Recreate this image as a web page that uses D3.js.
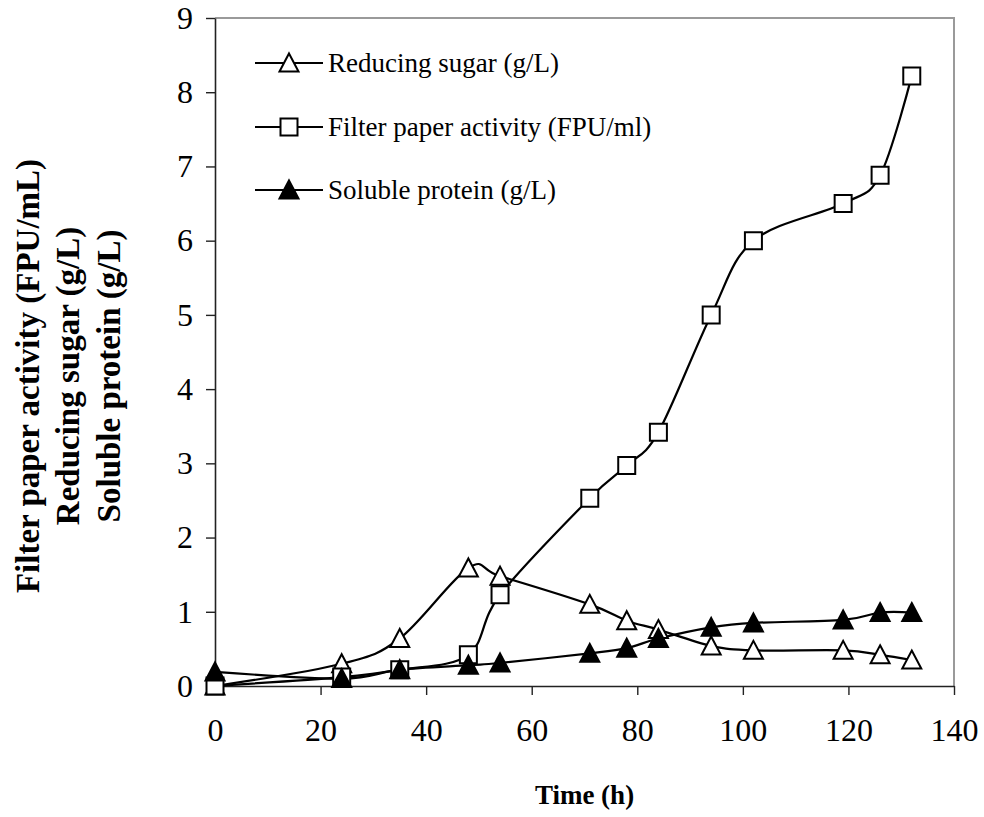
<!DOCTYPE html>
<html>
<head>
<meta charset="utf-8">
<script src="https://cdn.jsdelivr.net/npm/d3@7"></script>
<style>
  html, body { margin: 0; padding: 0; background: #fff; }
  svg { display: block; }
  text { font-family: "Liberation Serif", "Times New Roman", serif; fill: #000; }
</style>
</head>
<body>
<svg id="chart" width="984" height="817"></svg>
<script>
// Sampling times (h)
const timeH = [0, 24, 35, 48, 54, 71, 78, 84, 94, 102, 119, 126, 132];

// Measured values at each sampling time
const reducingSugar = [0, 0.30, 0.64, 1.59, 1.48, 1.10, 0.88, 0.76, 0.54, 0.48, 0.48, 0.42, 0.35];
const filterPaperActivity = [0, 0.12, 0.22, 0.42, 1.23, 2.53, 2.97, 3.42, 5.0, 6.0, 6.5, 6.88, 8.22];
const solubleProtein = [0.19, 0.10, 0.22, 0.28, 0.31, 0.44, 0.51, 0.64, 0.79, 0.85, 0.89, 0.99, 0.99];

const xTicks = [0, 20, 40, 60, 80, 100, 120, 140];
const yTicks = [0, 1, 2, 3, 4, 5, 6, 7, 8, 9];

const seriesNames = ["Reducing sugar (g/L)", "Filter paper activity (FPU/ml)", "Soluble protein (g/L)"];
const yTitleLines = ["Filter paper activity (FPU/mL)", "Reducing sugar (g/L)", "Soluble protein (g/L)"];
const xTitle = "Time (h)";

const series = [
  { name: seriesNames[0], values: reducingSugar, marker: "triangle", fill: "#fff" },
  { name: seriesNames[1], values: filterPaperActivity, marker: "square", fill: "#fff" },
  { name: seriesNames[2], values: solubleProtein, marker: "triangle", fill: "#000" }
];

const svg = d3.select("#chart");
const plot = { left: 215, right: 954, top: 18, bottom: 686 };

const x = d3.scaleLinear().domain([0, 140]).range([plot.left, plot.right]);
const y = d3.scaleLinear().domain([0, 9]).range([plot.bottom, plot.top]);

// Grey frame on top and right
svg.append("path")
  .attr("d", `M${plot.left},${plot.top}H${plot.right}V${plot.bottom}`)
  .attr("fill", "none")
  .attr("stroke", "#9a9a9a")
  .attr("stroke-width", 2);

// Axes
const xAxis = svg.append("g")
  .attr("transform", `translate(0,${plot.bottom})`)
  .call(d3.axisBottom(x).tickValues(xTicks).tickSize(9).tickSizeOuter(0).tickPadding(23));
const yAxis = svg.append("g")
  .attr("transform", `translate(${plot.left},0)`)
  .call(d3.axisLeft(y).tickValues(yTicks).tickSize(9).tickSizeOuter(0).tickPadding(13));

[xAxis, yAxis].forEach(g => {
  g.select(".domain").attr("stroke", "#222").attr("stroke-width", 1.6);
  g.selectAll(".tick line").attr("stroke", "#222").attr("stroke-width", 1.4);
  g.selectAll(".tick text")
    .attr("font-family", "Liberation Serif, Times New Roman, serif")
    .attr("font-size", 32)
    .attr("fill", "#000");
});

// Marker shapes
const triPath = (cx, cy) => {
  const w = 9.5, h = 17;
  return `M${cx},${cy - h / 2 - 1}L${cx + w},${cy + h / 2}L${cx - w},${cy + h / 2}Z`;
};
const sqPath = (cx, cy) => {
  const h = 8.5;
  return `M${cx - h},${cy - h}H${cx + h}V${cy + h}H${cx - h}Z`;
};
function drawMarker(g, kind, cx, cy, fill) {
  g.append("path")
    .attr("d", kind === "square" ? sqPath(cx, cy) : triPath(cx, cy))
    .attr("fill", fill)
    .attr("stroke", "#000")
    .attr("stroke-width", 2)
    .attr("stroke-linejoin", "miter");
}

const line = d3.line()
  .x(d => x(d[0]))
  .y(d => y(d[1]))
  .curve(d3.curveCardinal.tension(0));

const dataLayer = svg.append("g");
series.forEach(s => {
  const pts = timeH.map((t, i) => [t, s.values[i]]);
  dataLayer.append("path")
    .datum(pts)
    .attr("d", line)
    .attr("fill", "none")
    .attr("stroke", "#000")
    .attr("stroke-width", 2.2);
});
// Markers drawn after all lines
series.forEach(s => {
  const g = dataLayer.append("g");
  timeH.forEach((t, i) => drawMarker(g, s.marker, x(t), y(s.values[i]), s.fill));
});

// Legend
const legend = svg.append("g");
const legendRows = [63, 127, 190];
series.forEach((s, i) => {
  const ly = legendRows[i];
  legend.append("line")
    .attr("x1", 255).attr("x2", 323)
    .attr("y1", ly).attr("y2", ly)
    .attr("stroke", "#000").attr("stroke-width", 2.2);
  drawMarker(legend, s.marker, 289, ly, s.fill);
  legend.append("text")
    .attr("x", 328).attr("y", ly)
    .attr("dy", "0.32em")
    .attr("font-size", 27)
    .text(s.name);
});

// Axis titles
svg.append("text")
  .attr("x", (plot.left + plot.right) / 2)
  .attr("y", 804)
  .attr("text-anchor", "middle")
  .attr("font-size", 27)
  .attr("font-weight", "bold")
  .text(xTitle);

const yTitleX = [39, 79, 120];
yTitleLines.forEach((t, i) => {
  svg.append("text")
    .attr("transform", `translate(${yTitleX[i]},376) rotate(-90)`)
    .attr("text-anchor", "middle")
    .attr("font-size", 33)
    .attr("font-weight", "bold")
    .text(t);
});
</script>
</body>
</html>
